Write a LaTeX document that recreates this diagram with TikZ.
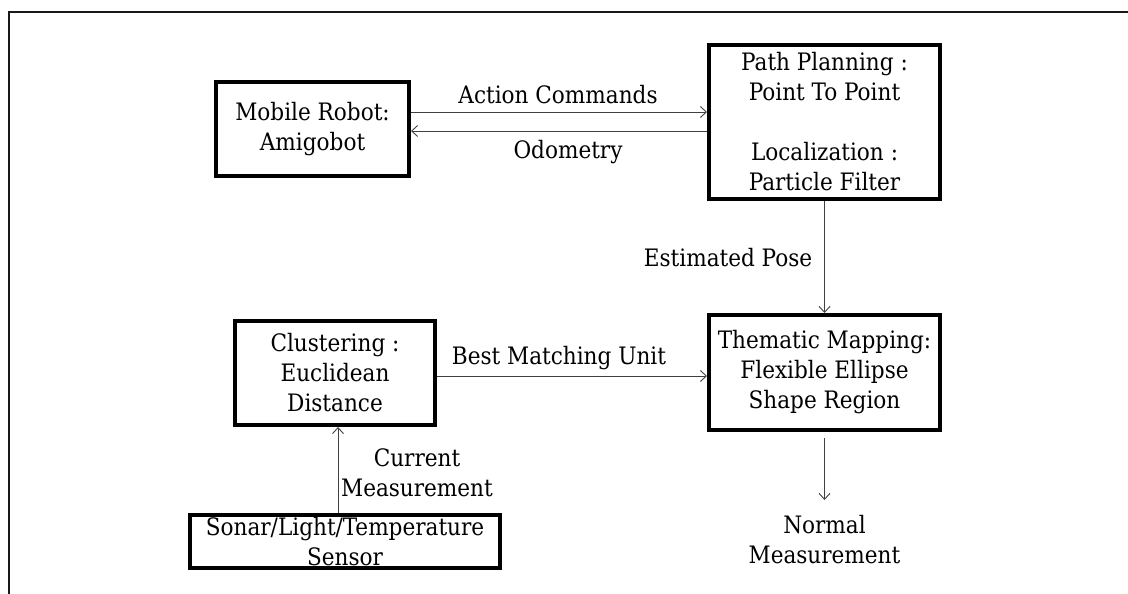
\documentclass[tikz,border=0pt]{standalone}
\usepackage{fontspec}
\setmainfont{DejaVu Serif Condensed}
\usetikzlibrary{arrows.meta}
\tikzset{
  blk/.style={draw=black, line width=4pt, inner sep=0pt, align=center,
    font=\fontsize{24}{30}\selectfont},
  lbl/.style={inner sep=0pt, align=center, font=\fontsize{24}{30}\selectfont},
  arr/.style={draw=black!75, line width=0.9pt, -{Straight Barb[length=6pt,width=11pt]}},
}
\begin{document}
\begin{tikzpicture}[x=1pt,y=-1pt]
\useasboundingbox (0,0) rectangle (1128,594);
\draw[line width=2pt, black!90] (9,594) -- (9,12) -- (1128,12);

\node[blk, minimum width=193pt, minimum height=93pt] (robot) at (312.5,129) {Mobile Robot:\\Amigobot};
\node[blk, minimum width=231pt, minimum height=154pt] (plan) at (824.5,122) {Path Planning :\\Point To Point\\[30pt]Localization :\\Particle Filter};
\node[blk, minimum width=231pt, minimum height=115pt] (them) at (824.5,372.5) {Thematic Mapping:\\Flexible Ellipse\\Shape Region};
\node[blk, minimum width=200pt, minimum height=104pt] (clus) at (335,373) {Clustering :\\Euclidean\\Distance};
\node[blk, minimum width=310pt, minimum height=53pt] (sens) at (345,541.5) {Sonar/Light/Temperature\\Sensor};

\coordinate (ya) at (0,112);
\coordinate (yo) at (0,131);
\coordinate (yb) at (0,376);
\coordinate (xc) at (338,0);
\coordinate (nend) at (824.5,500);
\coordinate (nstart) at (824.5,438);

\draw[arr] (robot.east |- ya) -- (plan.west |- ya);
\draw[arr] (plan.west |- yo) -- (robot.east |- yo);
\draw[arr] (plan.south) -- (them.north);
\draw[arr] (clus.east |- yb) -- (them.west |- yb);
\draw[arr] (sens.north -| xc) -- (clus.south -| xc);
\draw[arr] (nstart) -- (nend);

\node[lbl] (lac) at (558,95) {Action Commands};
\node[lbl] (lod) at (568,152) {Odometry};
\node[lbl] (lep) at (728,258) {Estimated Pose};
\node[lbl] (lbm) at (559,358) {Best Matching Unit};
\node[lbl] (lcm) at (417,473) {Current\\Measurement};
\node[lbl] (lnm) at (824.5,540) {Normal\\Measurement};
\end{tikzpicture}
\end{document}
